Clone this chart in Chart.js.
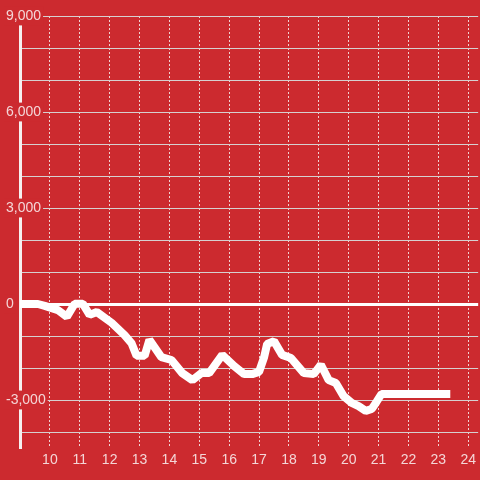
<!DOCTYPE html>
<html>
<head>
<meta charset="utf-8">
<script src="https://cdn.jsdelivr.net/npm/chart.js@4"></script>
<style>
    html, body { margin: 0; padding: 0; background: #cc2a2f; }
    #wrap { width: 480px; height: 480px; }
</style>
</head>
<body>
<div id="wrap"><canvas id="chart" width="480" height="480"></canvas></div>
<script>
// hour of day and running value
const hours = [9.0, 9.6, 9.83, 10.27, 10.57, 10.83, 11.1, 11.33, 11.57, 12.07, 12.5, 12.73, 12.9, 13.17, 13.33,
    13.73, 14.07, 14.43, 14.77, 15.07, 15.33, 15.77, 16.17, 16.5, 16.77, 17.0, 17.17, 17.27, 17.5, 17.77,
    18.07, 18.5, 18.83, 19.07, 19.33, 19.57, 19.83, 20.1, 20.33, 20.57, 20.77, 20.93, 21.1, 23.4];
const values = [0, 0, -60, -190, -400, 10, 10, -340, -250, -590, -970, -1220, -1620, -1620, -1120,
    -1660, -1750, -2160, -2380, -2160, -2160, -1590, -1940, -2190, -2190, -2120, -1660, -1250, -1160, -1590,
    -1690, -2160, -2190, -1900, -2380, -2470, -2880, -3090, -3190, -3340, -3280, -3060, -2810, -2810];
const xTicks = [10, 11, 12, 13, 14, 15, 16, 17, 18, 19, 20, 21, 22, 23, 24];
const yTicks = [-4000, -3000, -2000, -1000, 0, 1000, 2000, 3000, 4000, 5000, 6000, 7000, 8000, 9000];
const yLabelled = [-3000, 0, 3000, 6000, 9000];

const bg = '#cc2a2f';
const labelColor = '#f4d6d7';

new Chart(document.getElementById('chart'), {
    type: 'line',
    data: {
        datasets: [{
            data: hours.map((h, i) => ({ x: h, y: values[i] })),
            borderColor: '#ffffff',
            borderWidth: 8,
            borderJoinStyle: 'bevel',
            borderCapStyle: 'butt',
            pointRadius: 0,
            tension: 0
        }]
    },
    options: {
        responsive: false,
        animation: false,
        devicePixelRatio: 1,
        layout: { padding: { left: 6, top: 16, right: 0, bottom: 0 } },
        plugins: { legend: { display: false }, tooltip: { enabled: false } },
        scales: {
            x: {
                type: 'linear',
                min: 9,
                max: 9 + 460 / 30,
                afterBuildTicks: s => { s.ticks = xTicks.map(v => ({ value: v })); },
                afterFit: s => { s.height = 32; },
                grid: { drawTicks: false, lineWidth: 1, color: '#f0d2d2' },
                border: { display: false, dash: [2, 2] },
                ticks: {
                    autoSkip: false,
                    maxRotation: 0,
                    padding: 4,
                    color: labelColor,
                    font: { family: 'Liberation Sans', size: 14 },
                    callback: v => String(v)
                }
            },
            y: {
                min: -4500,
                max: 9000,
                afterBuildTicks: s => { s.ticks = yTicks.map(v => ({ value: v })); },
                afterFit: s => { s.width = 14; },
                grid: {
                    drawTicks: false,
                    lineWidth: c => c.tick.value === 0 ? 3 : 1,
                    color: c => c.tick.value === 0 ? '#ffffff' : '#d6d0d0'
                },
                border: { display: true, color: '#f6f0f0', width: 3 },
                ticks: {
                    autoSkip: false,
                    mirror: true,
                    padding: -14,
                    crossAlign: 'near',
                    color: labelColor,
                    font: { family: 'Liberation Sans', size: 14 },
                    showLabelBackdrop: c => yLabelled.includes(c.tick.value),
                    backdropColor: bg,
                    backdropPadding: { left: 2, right: 2, top: 1, bottom: 1 },
                    callback: v => yLabelled.includes(v) ? v.toLocaleString('en-US') : ''
                }
            }
        }
    }
});
</script>
</body>
</html>
